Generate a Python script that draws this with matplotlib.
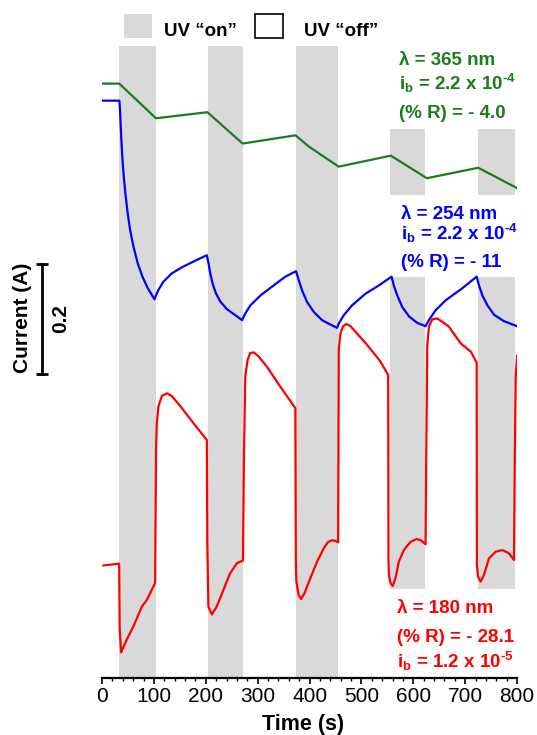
import matplotlib
matplotlib.use('Agg')
import matplotlib.pyplot as plt
from matplotlib.patches import Rectangle
from matplotlib.ticker import MultipleLocator

plt.rcParams['font.family'] = ['Liberation Sans', 'DejaVu Sans']
plt.rcParams['mathtext.default'] = 'regular'

# UV "on" intervals (s)
on_start = [33, 204, 374, 555, 725]
on_end = [104, 272, 454, 622, 795]

# 365 nm
green_t = [1.4, 33.2, 103.9, 203.1, 271.0, 373.0, 398.0, 456.0, 556.6, 626.0, 725.0, 800.0]
green_i = [1.080, 1.080, 1.017, 1.028, 0.971, 0.986, 0.966, 0.929, 0.949, 0.908, 0.927, 0.890]

# 254 nm
blue_t = [0.6, 33.4, 34.7, 36.0, 38.0, 39.9, 42.5, 45.7, 49.5, 54.1, 60.5, 68.9, 77.9, 88.2, 101.0,
          108.7, 118.4, 134.5, 153.8, 179.5, 202.0,
          205.3, 208.5, 213.0, 219.4, 227.8, 240.7, 256.8, 270.0,
          276.0, 286.0, 305.5, 332.0, 353.3, 373.9,
          379.0, 385.5, 395.2, 408.0, 424.0, 440.0, 453.0,
          456.3, 466.0, 482.0, 507.7, 533.4, 558.0,
          562.4, 568.9, 578.5, 591.4, 607.5, 623.6,
          630.0, 642.9, 662.2, 694.4, 722.0,
          726.5, 733.0, 742.7, 755.4, 774.7, 800.0]
blue_i = [1.049, 1.049, 1.032, 1.002, 0.965, 0.935, 0.905, 0.874, 0.844, 0.814, 0.784, 0.753, 0.729, 0.708, 0.688,
          0.705, 0.720, 0.735, 0.746, 0.758, 0.768,
          0.753, 0.735, 0.717, 0.699, 0.684, 0.670, 0.659, 0.650,
          0.662, 0.677, 0.695, 0.714, 0.729, 0.739,
          0.723, 0.704, 0.683, 0.665, 0.650, 0.642, 0.636,
          0.644, 0.659, 0.677, 0.698, 0.713, 0.729,
          0.713, 0.695, 0.674, 0.657, 0.645, 0.639,
          0.650, 0.668, 0.686, 0.708, 0.729,
          0.713, 0.695, 0.677, 0.660, 0.648, 0.639]

# 180 nm
red_t = [2.6, 31.5, 33.0, 34.0, 36.7,
         47.6, 60.4, 76.6, 86.2, 102.3,
         104.2, 105.6, 108.7, 115.2, 125.0, 134.5, 150.6, 176.3, 202.0,
         202.8, 205.0, 211.6, 221.0, 247.0, 260.0, 271.6,
         273.5, 276.0, 280.6, 285.7, 292.1, 301.8, 317.9, 343.6, 372.6,
         373.5, 374.5, 379.0, 383.6, 390.0, 401.5, 414.5, 427.3, 435.0, 443.4, 449.8, 455.0,
         455.6, 456.3, 459.5, 464.6, 471.0, 478.8, 488.4, 511.0, 536.7, 551.5,
         552.0, 552.8, 556.0, 560.5, 565.6, 572.0, 581.7, 594.6, 606.2, 614.0, 623.6,
         624.8, 626.8, 630.0, 636.5, 646.1, 655.8, 668.6, 691.0, 710.4, 722.0,
         722.5, 724.6, 729.7, 736.1, 745.8, 758.7, 771.6, 784.4, 794.0,
         795.5, 797.3, 800.0]
red_i = [0.204, 0.207, 0.207, 0.090, 0.046,
         0.069, 0.093, 0.129, 0.141, 0.172,
         0.420, 0.4625, 0.493, 0.512, 0.517, 0.512, 0.494, 0.4625, 0.432,
         0.250, 0.129, 0.115, 0.129, 0.190, 0.208, 0.213,
         0.400, 0.547, 0.578, 0.590, 0.5915, 0.584, 0.565, 0.529, 0.490,
         0.217, 0.1745, 0.150, 0.143, 0.153, 0.181, 0.211, 0.235, 0.246, 0.250, 0.2485, 0.246,
         0.400, 0.596, 0.626, 0.639, 0.643, 0.639, 0.629, 0.605, 0.5745, 0.550,
         0.217, 0.187, 0.1716, 0.167, 0.181, 0.211, 0.232, 0.247, 0.252, 0.250, 0.2425,
         0.400, 0.602, 0.638, 0.6515, 0.653, 0.647, 0.638, 0.608, 0.593, 0.573,
         0.205, 0.1836, 0.1745, 0.187, 0.217, 0.229, 0.232, 0.226, 0.214,
         0.400, 0.547, 0.585]

GREEN = '#1b7c1b'
BLUE = '#0000ff'
RED = '#ff0000'
GRAY = '#d9d9d9'

fig = plt.figure(figsize=(5.37, 7.35), dpi=100)
ax = fig.add_axes([0.190, 0.078, 0.773, 0.922])
ax.set_xlim(0, 800)
ax.set_ylim(0, 1.232)

# shaded "on" bands (last two are broken around the labels)
for k, (a, b) in enumerate(zip(on_start, on_end)):
    if k < 3:
        ax.fill_between([a, b], 0, 1.148, color=GRAY, lw=0, zorder=0)
    else:
        ax.fill_between([a, b], 0.877, 0.997, color=GRAY, lw=0, zorder=0)
        ax.fill_between([a, b], 0.161, 0.729, color=GRAY, lw=0, zorder=0)

ax.plot(green_t, green_i, color=GREEN, lw=1.6)
ax.plot(blue_t, blue_i, color=BLUE, lw=1.6)
ax.plot(red_t, red_i, color=RED, lw=1.6)

for s in ['top', 'right', 'left']:
    ax.spines[s].set_visible(False)
ax.spines['bottom'].set_linewidth(1.6)
ax.set_yticks([])
ax.xaxis.set_major_locator(MultipleLocator(100))
ax.xaxis.set_minor_locator(MultipleLocator(20))
ax.tick_params(axis='x', which='major', length=4.5, width=1.2, labelsize=15, pad=2)
ax.tick_params(axis='x', which='minor', length=2.5, width=1.0)

fig.text(0.5635, 0.0145, 'Time (s)', fontsize=15.5, fontweight='bold',
         ha='center', va='center')

# 0.2 A scale bar
ax.plot([-116.4, -116.4], [0.552, 0.752], color='black', lw=2, clip_on=False,
        marker='_', markersize=9, markeredgewidth=2)
fig.text(0.041, 0.567, 'Current (A)', rotation=90, fontsize=15, fontweight='bold',
         ha='center', va='center')
fig.text(0.112, 0.567, '0.2', rotation=90, fontsize=15, fontweight='bold',
         ha='center', va='center')

# legend
fig.add_artist(Rectangle((0.2315, 0.9487), 0.0523, 0.0317, transform=fig.transFigure,
                         facecolor=GRAY, edgecolor='none'))
fig.add_artist(Rectangle((0.475, 0.9487), 0.0518, 0.0317, transform=fig.transFigure,
                         facecolor='white', edgecolor='black', lw=1.2))
fig.text(0.305, 0.951, 'UV \u201con\u201d', fontsize=13.5, fontweight='bold', va='baseline')
fig.text(0.566, 0.951, 'UV \u201coff\u201d', fontsize=13.5, fontweight='bold', va='baseline')

kw = dict(fontsize=13.5, fontweight='bold', va='baseline', ha='left')
ib4 = 'i$_\\mathregular{b}$ = 2.2 x 10$^\\mathregular{\u20104}$'
ib5 = 'i$_\\mathregular{b}$ = 1.2 x 10$^\\mathregular{\u20105}$'

ax.text(573, 1.114, '\u03bb = 365 nm', color=GREEN, **kw)
ax.text(573, 1.069, ib4, color=GREEN, **kw)
ax.text(572, 1.018, '(% R) = - 4.0', color=GREEN, **kw)

ax.text(577, 0.834, '\u03bb = 254 nm', color=BLUE, **kw)
ax.text(577, 0.796, ib4, color=BLUE, **kw)
ax.text(576, 0.747, '(% R) = - 11', color=BLUE, **kw)

ax.text(569, 0.117, '\u03bb = 180 nm', color=RED, **kw)
ax.text(569, 0.065, '(% R) = - 28.1', color=RED, **kw)
ax.text(569, 0.017, ib5, color=RED, **kw)

fig.savefig('out.png', dpi=100)
